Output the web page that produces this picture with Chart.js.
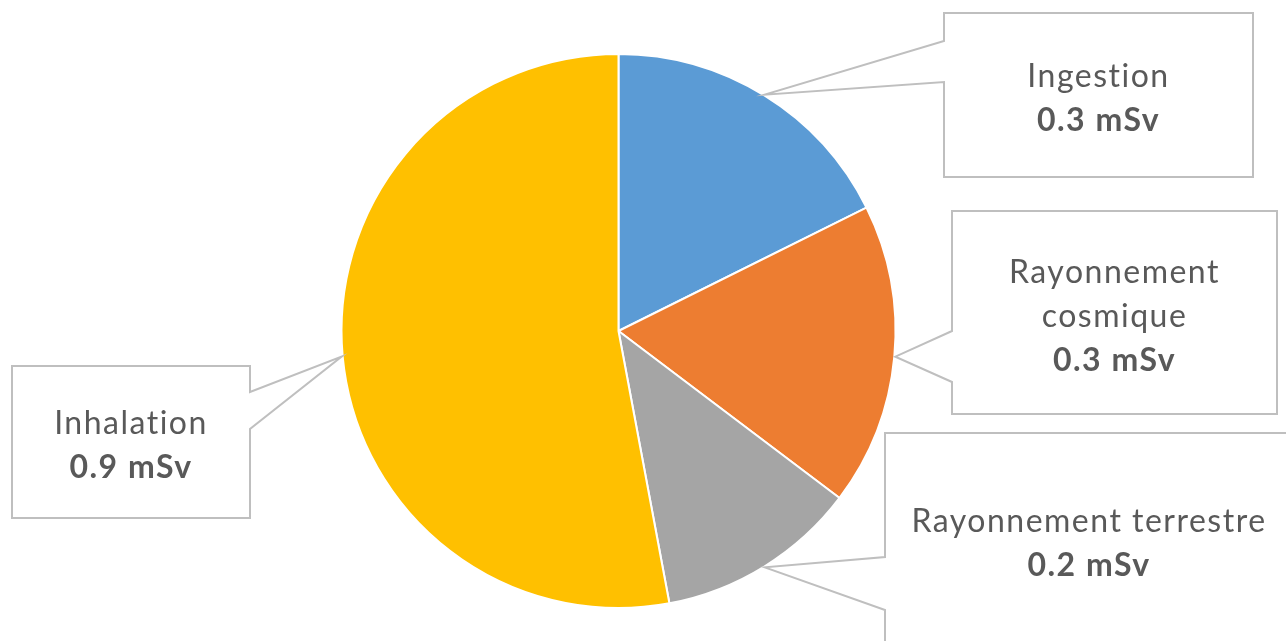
<!DOCTYPE html>
<html lang="fr">
<head>
<meta charset="utf-8">
<title>Exposition naturelle</title>
<script src="https://cdn.jsdelivr.net/npm/chart.js@4.4.1/dist/chart.umd.min.js"></script>
<style>
  html, body { margin: 0; padding: 0; background: #fff; }
  #wrap { width: 1286px; height: 641px; position: relative; }
</style>
</head>
<body>
<div id="wrap"><canvas id="pie" width="1286" height="641"></canvas></div>
<script>
// ── DATA ───────────────────────────────────────
const labels = ['Ingestion', 'Rayonnement cosmique', 'Rayonnement terrestre', 'Inhalation'];
const doses  = [0.3, 0.3, 0.2, 0.9];           // mSv
const unit   = 'mSv';
const colors = ['#5B9BD5', '#ED7D31', '#A5A5A5', '#FFC000'];

// ── CALLOUT LAYOUT (box + wedge base on the box edge facing the pie) ──
const callouts = [
  { x: 944, y: 13,  w: 309, h: 164, side: 'left',  base: [41, 82] },
  { x: 952, y: 211, w: 325, h: 203, side: 'left',  base: [331, 382] },
  { x: 885, y: 433, w: 408, h: 214, side: 'left',  base: [557, 610] },
  { x: 12,  y: 366, w: 238, h: 152, side: 'right', base: [392, 429] }
];

const FONT = 'Lato, "Open Sans", sans-serif';
const TXT  = '#595959';
const LINE = '#BFBFBF';

function wrap(ctx, text, maxW) {
  const words = text.split(' '), out = [];
  let cur = '';
  words.forEach(w => {
    const t = cur ? cur + ' ' + w : w;
    if (cur && ctx.measureText(t).width > maxW) { out.push(cur); cur = w; }
    else cur = t;
  });
  if (cur) out.push(cur);
  return out;
}

// draws the Excel-style wedge callouts, pointing at each slice's mid-angle on the rim
const calloutPlugin = {
  id: 'callouts',
  afterDatasetsDraw(chart) {
    const { ctx } = chart;
    const arcs = chart.getDatasetMeta(0).data;
    ctx.save();
    arcs.forEach((arc, i) => {
      const c = callouts[i];
      const mid = (arc.startAngle + arc.endAngle) / 2;
      const tx = arc.x + Math.cos(mid) * (arc.outerRadius + 1);
      const ty = arc.y + Math.sin(mid) * (arc.outerRadius + 1);
      const L = c.x, R = c.x + c.w, T = c.y, B = c.y + c.h;

      ctx.beginPath();
      if (c.side === 'left') {
        ctx.moveTo(L, T); ctx.lineTo(R, T); ctx.lineTo(R, B); ctx.lineTo(L, B);
        ctx.lineTo(L, c.base[1]); ctx.lineTo(tx, ty); ctx.lineTo(L, c.base[0]);
      } else {
        ctx.moveTo(L, T); ctx.lineTo(R, T); ctx.lineTo(R, c.base[0]);
        ctx.lineTo(tx, ty); ctx.lineTo(R, c.base[1]); ctx.lineTo(R, B); ctx.lineTo(L, B);
      }
      ctx.closePath();
      ctx.fillStyle = '#fff';
      ctx.fill();
      ctx.lineWidth = 2;
      ctx.strokeStyle = LINE;
      ctx.lineJoin = 'miter';
      ctx.stroke();

      // text, centred in the box (slightly low, like Excel)
      ctx.letterSpacing = '1.5px';
      ctx.font = '32px ' + FONT;
      const lines = wrap(ctx, labels[i], c.w - 30);
      const lh = 44, n = lines.length + 1;
      const cx = L + c.w / 2, cy = T + c.h / 2 + 4;
      ctx.textAlign = 'center';
      ctx.textBaseline = 'middle';
      ctx.fillStyle = TXT;
      lines.forEach((ln, k) => ctx.fillText(ln, cx, cy + (k - (n - 1) / 2) * lh));
      ctx.font = 'bold 32px ' + FONT;
      ctx.fillText(doses[i].toFixed(1) + ' ' + unit, cx, cy + ((n - 1) / 2) * lh);
    });
    ctx.restore();
  }
};

new Chart(document.getElementById('pie').getContext('2d'), {
  type: 'pie',
  data: {
    labels,
    datasets: [{
      data: doses,
      backgroundColor: colors,
      borderColor: '#fff',
      borderWidth: 2,
      hoverOffset: 0
    }]
  },
  options: {
    responsive: false,
    animation: false,
    layout: { padding: { top: 53, bottom: 32, left: 300, right: 349 } },
    plugins: { legend: { display: false }, tooltip: { enabled: false } }
  },
  plugins: [calloutPlugin]
});
</script>
</body>
</html>
